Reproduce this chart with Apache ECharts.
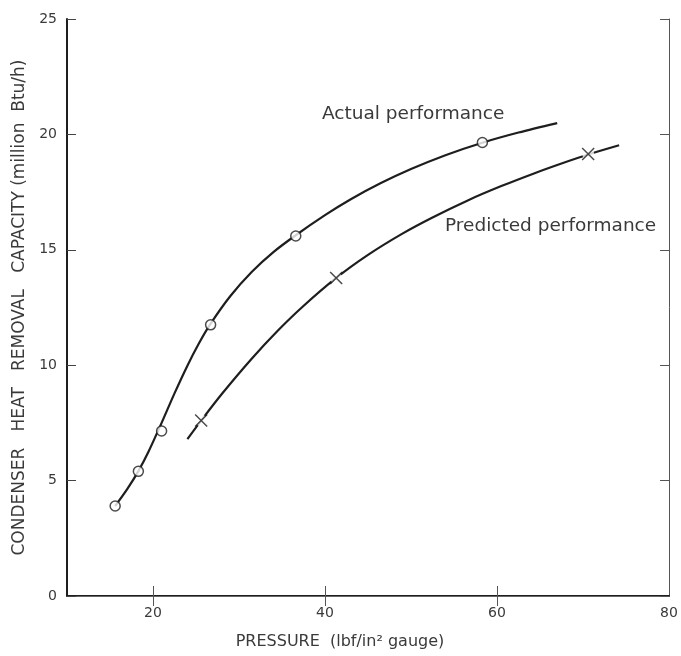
<!DOCTYPE html>
<html><head><meta charset="utf-8">
<script src="https://cdn.jsdelivr.net/npm/echarts@6/dist/echarts.min.js"></script>
<style>html,body{margin:0;padding:0;background:#fff}#c{width:681px;height:656px}</style>
</head><body><div id="c"></div>
<script>
// Data
const xTickLabels = [20, 40, 60, 80];
const xTicks = [20, 40, 60];
const actualCurve = [[15.6,3.9],[17,4.63],[18.3,5.41],[19.5,6.27],[21,7.5],[22.5,8.78],[24,9.98],[25.3,10.92],[26.7,11.8],[29,13.0],[31.5,14.05],[34,14.9],[36.6,15.63],[40,16.5],[43,17.19],[46.5,17.89],[50,18.5],[54,19.1],[58.3,19.64],[62.5,20.08],[67,20.49]];
const actualPoints = [[15.6,3.9],[18.3,5.4],[21.0,7.15],[26.7,11.75],[36.6,15.6],[58.3,19.65]];
const predictedCurve = [[24,6.8],[25.6,7.6],[28,8.75],[31.5,10.29],[34.5,11.49],[37.3,12.5],[41.3,13.78],[45,14.78],[48.9,15.68],[52.5,16.4],[56.6,17.14],[60.5,17.76],[64.3,18.31],[67.5,18.74],[70.6,19.13],[74.2,19.53]];
const predictedPoints = [[25.6,7.6],[41.3,13.78],[70.6,19.15]];
const labelActual = 'Actual performance';
const labelPredicted = 'Predicted performance';
const xTitle = 'PRESSURE  (lbf/in² gauge)';
const yTitle = 'CONDENSER   HEAT   REMOVAL   CAPACITY (million  Btu/h)';

const ink = '#1e1e1e';
const txt = '#3a3a3a';
const font = 'DejaVu Sans';
const crossPath = 'path://M0,0 L10,10 M10,0 L0,10';

const chart = echarts.init(document.getElementById('c'), null, {renderer: 'canvas'});
chart.setOption({
  animation: false,
  backgroundColor: '#fff',
  grid: {left: 67, right: 12, top: 19, bottom: 60},
  xAxis: [{
    type: 'value', position: 'bottom', min: 10, max: 80,
    axisLine: {lineStyle: {color: ink, width: 2}},
    axisTick: {inside: true, length: 10, customValues: xTicks, lineStyle: {color: '#555', width: 1}},
    axisLabel: {customValues: xTickLabels, color: txt, fontFamily: font, fontSize: 14, margin: 10},
    splitLine: {show: false},
    name: xTitle, nameLocation: 'middle', nameGap: 38,
    nameTextStyle: {color: txt, fontFamily: font, fontSize: 16, padding: [0, 56, 0, 0]}
  }, {
    type: 'value', position: 'top', min: 10, max: 80,
    axisLine: {lineStyle: {color: '#666', width: 1}},
    axisTick: {inside: true, length: 10, customValues: xTicks, lineStyle: {color: '#555', width: 1}},
    axisLabel: {show: false},
    splitLine: {show: false}
  }],
  yAxis: [{
    type: 'value', position: 'left', min: 0, max: 25, interval: 5,
    axisLine: {show: true, lineStyle: {color: ink, width: 2}},
    axisTick: {show: true, inside: true, length: 9, lineStyle: {color: '#444', width: 1}},
    axisLabel: {color: txt, fontFamily: font, fontSize: 14, margin: 10},
    splitLine: {show: false},
    name: yTitle, nameLocation: 'middle', nameGap: 37, nameRotate: 90,
    nameTextStyle: {color: txt, fontFamily: font, fontSize: 17}
  }, {
    type: 'value', position: 'right', min: 0, max: 25, interval: 5,
    axisLine: {show: true, lineStyle: {color: '#555', width: 1}},
    axisTick: {show: true, inside: true, length: 9, lineStyle: {color: '#555', width: 1}},
    axisLabel: {show: false},
    splitLine: {show: false}
  }],
  series: [{
    type: 'line', data: actualCurve, smooth: 0.3, showSymbol: false,
    lineStyle: {color: ink, width: 2.2}, z: 2
  }, {
    type: 'line', data: predictedCurve, smooth: 0.3, showSymbol: false,
    lineStyle: {color: ink, width: 2.2}, z: 2
  }, {
    type: 'scatter', data: actualPoints, symbol: 'circle', symbolSize: 10,
    itemStyle: {color: '#fff', borderColor: ink, borderWidth: 1.5}, z: 5
  }, {
    type: 'scatter', data: predictedPoints, symbol: 'circle', symbolSize: 12,
    itemStyle: {color: '#fff', borderWidth: 0}, z: 4
  }, {
    type: 'scatter', data: predictedPoints, symbol: crossPath, symbolSize: 12,
    itemStyle: {color: 'none', borderColor: ink, borderWidth: 1.5}, z: 5
  }]
});
const pA = chart.convertToPixel({xAxisIndex: 0, yAxisIndex: 0}, [39.65, 20.88]);
const pP = chart.convertToPixel({xAxisIndex: 0, yAxisIndex: 0}, [53.95, 16.03]);
chart.setOption({
  graphic: [
    {type: 'text', x: pA[0], y: pA[1], style: {text: labelActual, fill: txt, font: '18.5px "DejaVu Sans"', textVerticalAlign: 'middle'}},
    {type: 'text', x: pP[0], y: pP[1], style: {text: labelPredicted, fill: txt, font: '18.5px "DejaVu Sans"', textVerticalAlign: 'middle'}}
  ]
});
</script></body></html>
